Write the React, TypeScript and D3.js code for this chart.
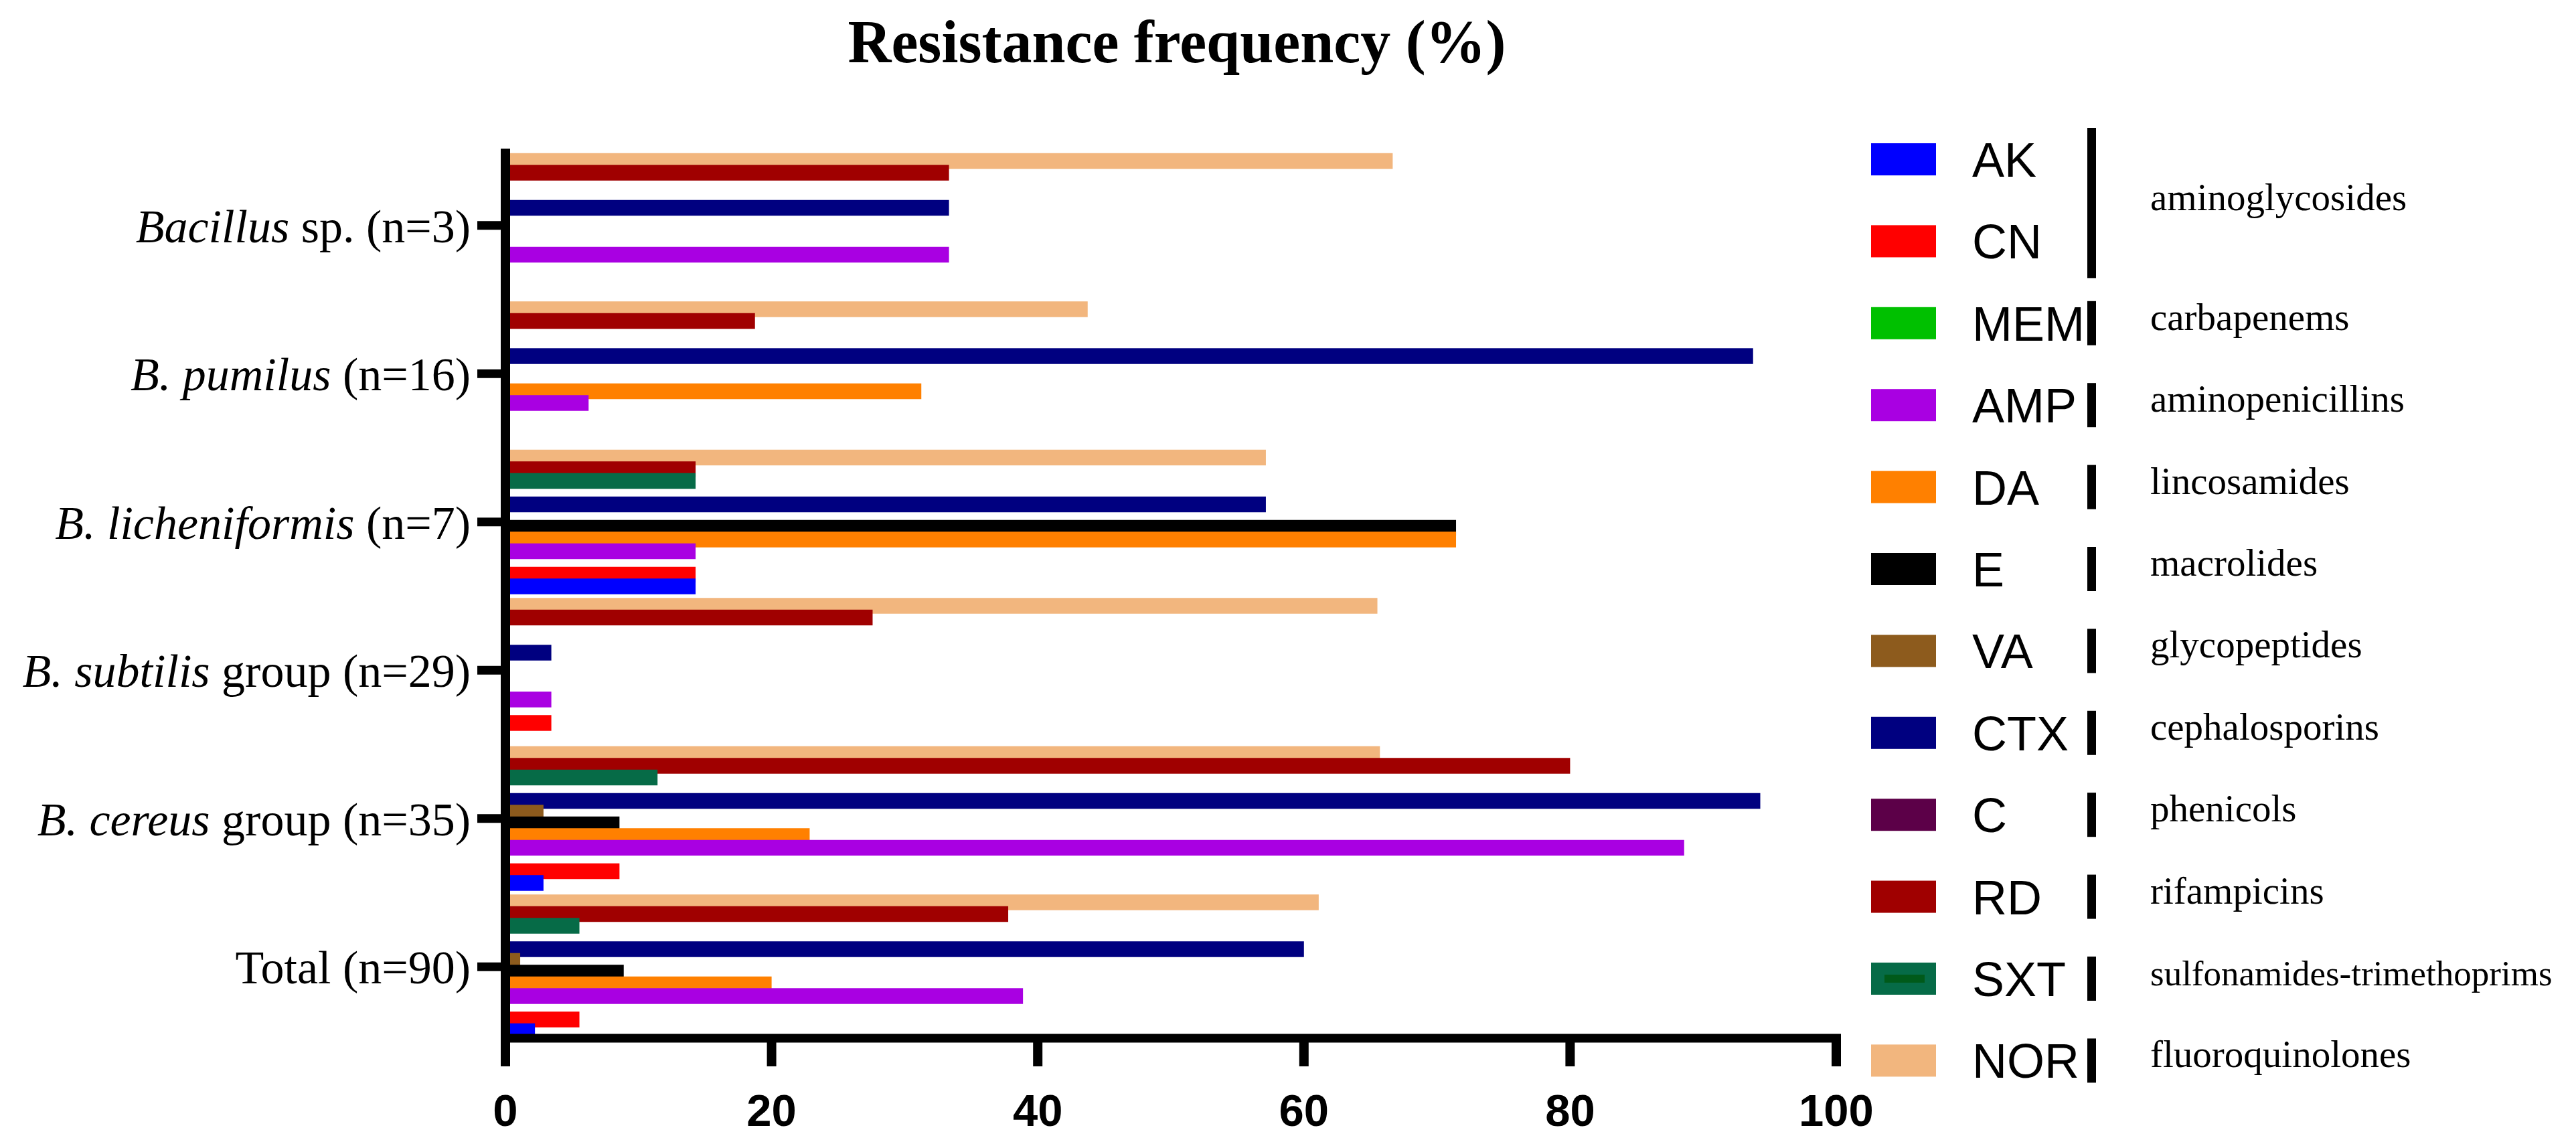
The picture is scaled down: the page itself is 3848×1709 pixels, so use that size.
import React from "react";
import * as d3 from "d3";

const groupItalic = ["Bacillus", "B. pumilus", "B. licheniformis", "B. subtilis", "B. cereus", ""];
const groupRest = [" sp. (n=3)", " (n=16)", " (n=7)", " group (n=29)", " group (n=35)", "Total (n=90)"];
const groupIds = ["bsp", "pum", "lic", "sub", "cer", "tot"];

const antibiotics = ["AK", "CN", "MEM", "AMP", "DA", "E", "VA", "CTX", "C", "RD", "SXT", "NOR"];
const classes = [
  "aminoglycosides", "aminoglycosides", "carbapenems", "aminopenicillins", "lincosamides", "macrolides",
  "glycopeptides", "cephalosporins", "phenicols", "rifampicins", "sulfonamides-trimethoprims", "fluoroquinolones",
];
const colors = [
  "#0000ff", "#ff0000", "#00c000", "#a900e2", "#ff8000", "#000000",
  "#8d5b1d", "#000080", "#5c0048", "#a00000", "#066b47", "#f2b67e",
];
// slot order in each group, top to bottom
const slotOrder = ["NOR", "RD", "SXT", "C", "CTX", "VA", "E", "DA", "AMP", "MEM", "CN", "AK"];

const values: Record<string, number[]> = {
  AK: [0, 0, 14.29, 0, 2.86, 2.22],
  CN: [0, 0, 14.29, 3.45, 8.57, 5.56],
  MEM: [0, 0, 0, 0, 0, 0],
  AMP: [33.33, 6.25, 14.29, 3.45, 88.57, 38.89],
  DA: [0, 31.25, 71.43, 0, 22.86, 20.0],
  E: [0, 0, 71.43, 0, 8.57, 8.89],
  VA: [0, 0, 0, 0, 2.86, 1.11],
  CTX: [33.33, 93.75, 57.14, 3.45, 94.29, 60.0],
  C: [0, 0, 0, 0, 0, 0],
  RD: [33.33, 18.75, 14.29, 27.59, 80.0, 37.78],
  SXT: [0, 0, 14.29, 0, 11.43, 5.56],
  NOR: [66.67, 43.75, 57.14, 65.52, 65.71, 61.11],
};

const xTicks = [0, 20, 40, 60, 80, 100];

const SERIF = "'Liberation Serif', 'Times New Roman', serif";
const SANS = "'Liberation Sans', Arial, sans-serif";

export default function App() {
  const W = 3848;
  const H = 1709;
  const x = d3.scaleLinear().domain([0, 100]).range([755, 2743]);
  const y = d3.scaleBand<string>().domain(groupIds).range([226, 1555]).padding(0);
  const inner = d3.scalePoint<string>().domain(slotOrder).range([-96.25, 96.25]);
  const barH = 23.5;
  const legendY = d3.scalePoint<string>().domain(antibiotics).range([238, 1584.4]);
  const colorOf = d3.scaleOrdinal<string, string>().domain(antibiotics).range(colors);

  const axisX0 = x(0);
  const axisBottom = 1551;

  return (
    <svg width={W} height={H} style={{ position: "absolute", left: 0, top: 0, background: "#fff" }}>
      <rect x={0} y={0} width={W} height={H} fill="#fff" />
      <text x={1758} y={93} textAnchor="middle" fontFamily={SERIF} fontWeight="bold" fontSize={90}>
        Resistance frequency (%)
      </text>

      {/* bars, drawn top slot first so lower bars overlap upper */}
      {slotOrder.map((ab) =>
        groupIds.map((g, gi) => {
          const v = values[ab][gi];
          if (!v) return null;
          const cy = (y(g) as number) + y.bandwidth() / 2 + (inner(ab) as number);
          return (
            <rect
              key={ab + g}
              x={x(0)}
              y={cy - barH / 2}
              width={x(v) - x(0)}
              height={barH}
              fill={colorOf(ab)}
            />
          );
        })
      )}

      {/* y axis */}
      <line x1={axisX0} x2={axisX0} y1={222} y2={1557} stroke="#000" strokeWidth={14} />
      {groupIds.map((g, gi) => {
        const cy = (y(g) as number) + y.bandwidth() / 2;
        return (
          <g key={g}>
            <line x1={713} x2={axisX0} y1={cy} y2={cy} stroke="#000" strokeWidth={13} />
            <text x={703} y={cy + 25} textAnchor="end" fontFamily={SERIF} fontSize={70}>
              {groupItalic[gi] && <tspan fontStyle="italic">{groupItalic[gi]}</tspan>}
              <tspan>{groupRest[gi]}</tspan>
            </text>
          </g>
        );
      })}

      {/* x axis */}
      <line x1={748} x2={x(100) + 7} y1={axisBottom} y2={axisBottom} stroke="#000" strokeWidth={13} />
      {xTicks.map((t) => (
        <g key={t}>
          <line x1={x(t)} x2={x(t)} y1={axisBottom} y2={1593} stroke="#000" strokeWidth={14} />
          <text x={x(t)} y={1682} textAnchor="middle" fontFamily={SANS} fontWeight="bold" fontSize={67}>
            {t}
          </text>
        </g>
      ))}

      {/* legend */}
      {antibiotics.map((ab, i) => {
        const cy = legendY(ab) as number;
        const long = classes[i].length > 20;
        return (
          <g key={ab}>
            <rect x={2795} y={cy - 24} width={97} height={48} fill={colorOf(ab)} />
            {ab === "SXT" && <rect x={2815} y={cy - 6} width={60} height={12} fill="#005a1a" />}
            <text x={2946} y={cy + 26} fontFamily={SANS} fontSize={72}>
              {ab}
            </text>
            {i >= 2 && (
              <>
                <rect x={3118} y={cy - 33} width={13} height={66} fill="#000" />
                <text x={3212} y={cy + 10} fontFamily={SERIF} fontSize={long ? 53 : 57}>
                  {classes[i]}
                </text>
              </>
            )}
          </g>
        );
      })}
      {(() => {
        const a = legendY("AK") as number;
        const c = legendY("CN") as number;
        return (
          <g>
            <rect x={3118} y={a - 47} width={13} height={c - a + 102} fill="#000" />
            <text x={3212} y={(a + c) / 2 + 15} fontFamily={SERIF} fontSize={57}>
              {classes[0]}
            </text>
          </g>
        );
      })()}
    </svg>
  );
}
